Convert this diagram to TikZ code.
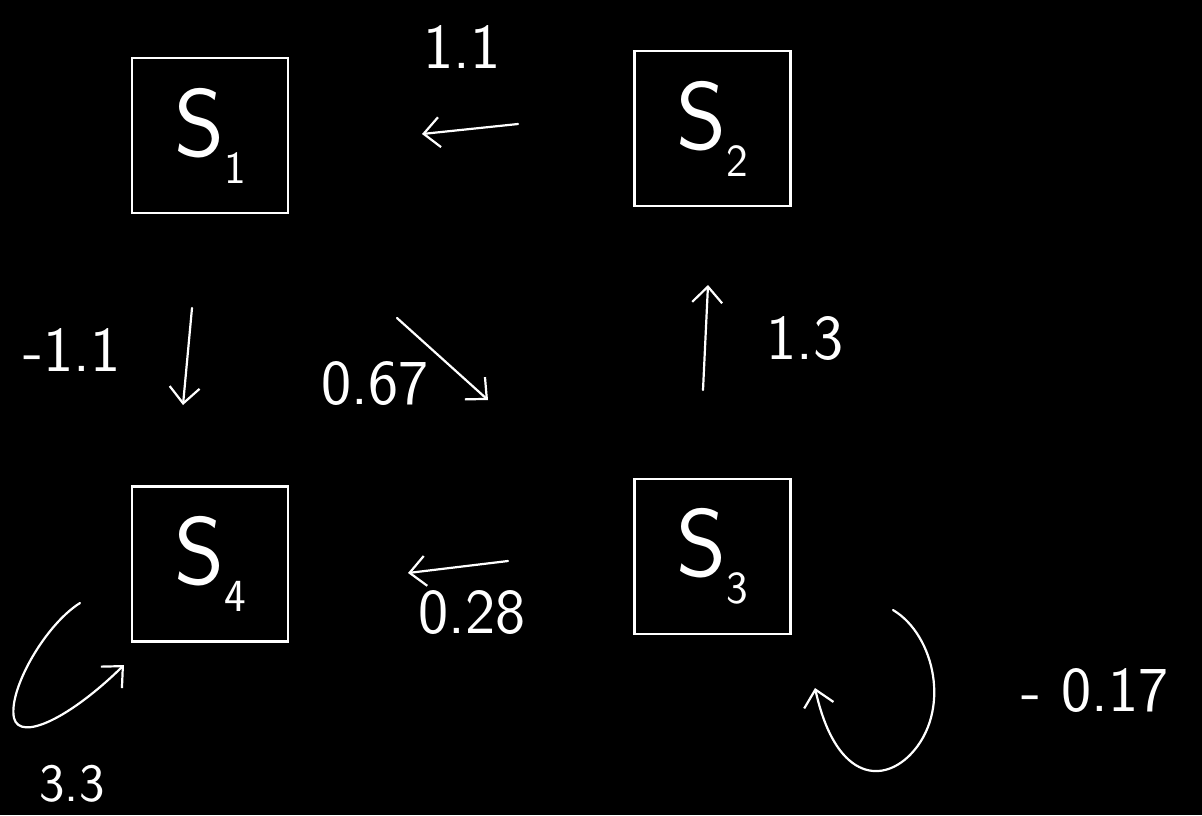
\documentclass[tikz,border=0pt]{standalone}
\usetikzlibrary{arrows.meta}
\newcommand{\stname}[1]{S\raisebox{-0.28em}{\fontsize{46}{46}\selectfont #1}}
\begin{document}
\begin{tikzpicture}[x=1pt,y=-1pt,
  every path/.style={line cap=round},
  box/.style={draw=white, line width=2.6pt, minimum width=156pt, minimum height=155pt, inner sep=0pt, text=white, font=\sffamily\fontsize{96}{96}\selectfont},
  lbl/.style={text=white, inner sep=0pt, font=\sffamily\fontsize{64}{64}\selectfont},
  arr/.style={draw=white, line width=2.2pt, -{Straight Barb[length=16pt,width=30pt,line width=2.2pt]}}]
\fill[black] (0,0) rectangle (1202,815);
\useasboundingbox (0,0) rectangle (1202,815);
% boxes
\node[box] (s1) at (210,135.5) {\stname{1}};
\node[box] (s2) at (712.5,128.5) {\stname{2}};
\node[box] (s4) at (210,564) {\stname{4}};
\node[box] (s3) at (712.5,556.5) {\stname{3}};
% arrow end points
\coordinate (a1s) at (518,124); \coordinate (a1e) at (422,134);
\coordinate (a2s) at (192,308); \coordinate (a2e) at (183,405);
\coordinate (a3s) at (397,318); \coordinate (a3e) at (488,400);
\coordinate (a4s) at (703,390); \coordinate (a4e) at (708,285);
\coordinate (a5s) at (508,561); \coordinate (a5e) at (408,573);
\coordinate (l4s) at (80,603);  \coordinate (l4e) at (124,665);
\coordinate (l3s) at (893,610); \coordinate (l3e) at (815,688);
% arrows
\draw[arr] (a1s) -- (a1e);
\draw[arr] (a2s) -- (a2e);
\draw[arr] (a3s) -- (a3e);
\draw[arr] (a4s) -- (a4e);
\draw[arr] (a5s) -- (a5e);
\draw[arr] (l4s) .. controls (45,625) and (8,690) .. (14,718) .. controls (20,742) and (70,718) .. (l4e);
\draw[arr] (l3s) .. controls (935,635) and (952,712) .. (910,755) .. controls (880,785) and (835,778) .. (l3e);
% labels
\node[lbl] (t1) at (462,47) {1.1};
\node[lbl] (t2) at (72,350) {-1.1};
\node[lbl] (t3) at (375,383) {0.67};
\node[lbl] (t4) at (805,338) {1.3};
\node[lbl] (t5) at (472,612) {0.28};
\node[lbl, font=\sffamily\fontsize{54}{54}\selectfont] (t6) at (72,784) {3.3};
\node[lbl] (t7) at (1095,690) {- 0.17};
\end{tikzpicture}
\end{document}
